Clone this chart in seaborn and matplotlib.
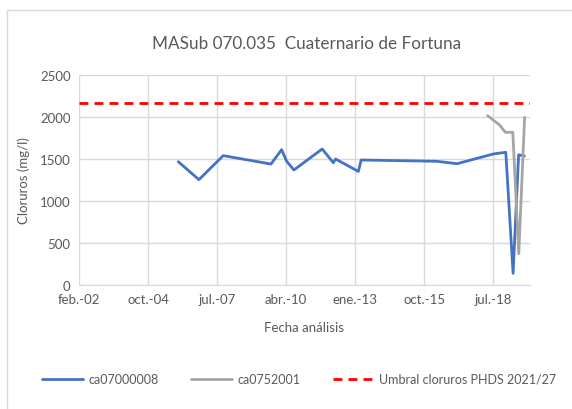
import matplotlib
matplotlib.use("Agg")
import matplotlib.pyplot as plt
from matplotlib.patches import Rectangle
from matplotlib.lines import Line2D
import seaborn as sns
import pandas as pd

# ---- data ----
blue_dates = ["2006-01-10", "2006-11-05", "2007-10-23", "2009-09-14", "2010-02-15",
              "2010-04-28", "2010-08-12", "2011-09-26", "2012-03-06", "2012-04-07",
              "2013-03-04", "2013-04-13", "2016-04-09", "2017-02-02", "2018-07-12",
              "2019-01-08", "2019-04-24", "2019-07-13", "2019-10-05"]
blue_values = [1468, 1254, 1540, 1440, 1611,
               1475, 1369, 1619, 1455, 1500,
               1352, 1488, 1473, 1444, 1560,
               1580, 139, 1550, 1535]

gray_dates = ["2018-04-19", "2018-10-10", "2019-01-02", "2019-04-20", "2019-07-15", "2019-10-08"]
gray_values = [2016, 1905, 1818, 1818, 372, 1996]

series_names = ["ca07000008", "ca0752001"]
threshold_name = "Umbral cloruros PHDS 2021/27"
threshold_value = 2170

tick_dates = ["2002-02-01", "2004-10-28", "2007-07-25", "2010-04-20",
              "2013-01-15", "2015-10-12", "2018-07-08"]
tick_labels = ["feb.-02", "oct.-04", "jul.-07", "abr.-10", "ene.-13", "oct.-15", "jul.-18"]
y_ticks = [0, 500, 1000, 1500, 2000, 2500]

title = "MASub 070.035  Cuaternario de Fortuna"
xlabel = "Fecha análisis"
ylabel = "Cloruros (mg/l)"

df = pd.concat([
    pd.DataFrame({"fecha": pd.to_datetime(blue_dates), "valor": blue_values, "serie": series_names[0]}),
    pd.DataFrame({"fecha": pd.to_datetime(gray_dates), "valor": gray_values, "serie": series_names[1]}),
], ignore_index=True)

# ---- style ----
sns.set_style("white")
plt.rcParams["font.family"] = ["Lato", "DejaVu Sans"]
text_col = "#595959"
grid_col = "#d9d9d9"

fig = plt.figure(figsize=(5.72, 4.10), dpi=100)
fig.patches.append(Rectangle((7 / 572, -0.05), 1.2, 1 - 11 / 410 + 0.05,
                             transform=fig.transFigure, fill=False,
                             edgecolor="#d9d9d9", linewidth=1.0, zorder=0))
ax = fig.add_axes([79 / 572, 1 - 286 / 410, (530 - 79) / 572, (286 - 76) / 410])

sns.lineplot(data=df, x="fecha", y="valor", hue="serie", ax=ax,
             palette={series_names[0]: "#4472C4", series_names[1]: "#A5A5A5"},
             linewidth=2.0, sort=False, estimator=None, legend=False)
ax.axhline(threshold_value, color="#FF0000", linewidth=2.0, dashes=(3.2, 2.2), zorder=3)

x0 = pd.Timestamp("2002-02-01")
x1 = x0 + pd.Timedelta(days=6536)
ax.set_xlim(x0, x1)
ax.set_ylim(0, 2500)
ax.set_xticks(pd.to_datetime(tick_dates))
ax.set_xticklabels(tick_labels)
ax.set_yticks(y_ticks)
ax.grid(True, color=grid_col, linewidth=1.0)
ax.set_axisbelow(True)
for s in ["top", "right", "left"]:
    ax.spines[s].set_visible(False)
ax.spines["bottom"].set_color(grid_col)
ax.tick_params(axis="both", length=0, labelsize=9.5, labelcolor=text_col, pad=6)
ax.set_xlabel(xlabel, fontsize=9.5, color=text_col, labelpad=11)
ax.set_ylabel(ylabel, fontsize=9.5, color=text_col, labelpad=7)

fig.text(307 / 572, 1 - 44 / 410, title, ha="center", va="center", fontsize=12.3, color=text_col)

handles = [Line2D([], [], color="#4472C4", lw=2.0),
           Line2D([], [], color="#A5A5A5", lw=2.0),
           Line2D([], [], color="#FF0000", lw=2.0, dashes=(3.2, 2.2))]
fig.legend(handles, series_names + [threshold_name], loc="center",
           bbox_to_anchor=(299 / 572, 1 - 380 / 410), ncol=3, frameon=False,
           fontsize=9, labelcolor=text_col, handlelength=3.3, handletextpad=0.4,
           columnspacing=2.6)

fig.savefig("out.png", dpi=100)
